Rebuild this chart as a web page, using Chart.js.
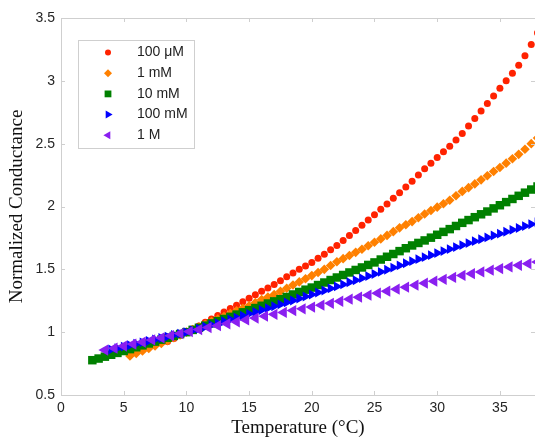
<!DOCTYPE html>
<html>
<head>
<meta charset="utf-8">
<title>Normalized Conductance vs Temperature</title>
<script src="https://cdn.jsdelivr.net/npm/chart.js@4"></script>
<style>
    html, body { margin: 0; padding: 0; background: #fff; }
    #wrap { width: 535px; height: 439px; }
</style>
</head>
<body>
<div id="wrap"><canvas id="chart" width="535" height="439"></canvas></div>
<script>
// values
const seriesLabels = ['100 \u03bcM', '1 mM', '10 mM', '100 mM', '1 M'];

const tempRed = [8.5, 9.0, 9.5, 10.0, 10.5, 11.0, 11.5, 12.0, 12.5, 13.0, 13.5, 14.0, 14.5,
    15.0, 15.5, 16.0, 16.5, 17.0, 17.5, 18.0, 18.5, 19.0, 19.5, 20.0, 20.5, 21.0, 21.5, 22.0, 22.5,
    23.0, 23.5, 24.0, 24.5, 25.0, 25.5, 26.0, 26.5, 27.0, 27.5, 28.0, 28.5, 29.0, 29.5, 30.0, 30.5,
    31.0, 31.5, 32.0, 32.5, 33.0, 33.5, 34.0, 34.5, 35.0, 35.5, 36.0, 36.5, 37.0, 37.5, 38.0];
const condRed = [0.925, 0.950, 0.975, 1.000, 1.025, 1.050, 1.078, 1.105, 1.132, 1.160, 1.188, 1.215, 1.242,
    1.270, 1.297, 1.325, 1.352, 1.380, 1.410, 1.440, 1.470, 1.500, 1.527, 1.555, 1.588, 1.620, 1.655, 1.690, 1.730,
    1.770, 1.810, 1.850, 1.892, 1.935, 1.978, 2.020, 2.065, 2.110, 2.155, 2.200, 2.250, 2.300, 2.345, 2.390, 2.435,
    2.480, 2.530, 2.580, 2.640, 2.700, 2.760, 2.820, 2.880, 2.940, 3.000, 3.060, 3.125, 3.200, 3.290, 3.380];

const tempOrange = [5.5, 6.0, 6.5, 7.0, 7.5, 8.0, 8.5, 9.0, 9.5, 10.0, 10.5, 11.0, 11.5, 12.0, 12.5, 13.0, 13.5,
    14.0, 14.5, 15.0, 15.5, 16.0, 16.5, 17.0, 17.5, 18.0, 18.5, 19.0, 19.5, 20.0, 20.5, 21.0, 21.5,
    22.0, 22.5, 23.0, 23.5, 24.0, 24.5, 25.0, 25.5, 26.0, 26.5, 27.0, 27.5, 28.0, 28.5, 29.0, 29.5,
    30.0, 30.5, 31.0, 31.5, 32.0, 32.5, 33.0, 33.5, 34.0, 34.5, 35.0, 35.5, 36.0, 36.5, 37.0, 37.5, 38.0];
const condOrange = [0.810, 0.830, 0.850, 0.870, 0.890, 0.910, 0.932, 0.955, 0.978, 1.000, 1.020, 1.040, 1.062, 1.085, 1.105, 1.125, 1.148,
    1.170, 1.190, 1.210, 1.235, 1.260, 1.280, 1.300, 1.325, 1.350, 1.375, 1.400, 1.425, 1.450, 1.475, 1.500, 1.530,
    1.560, 1.585, 1.610, 1.635, 1.660, 1.688, 1.715, 1.742, 1.770, 1.800, 1.830, 1.855, 1.880, 1.910, 1.940, 1.968,
    1.995, 2.022, 2.050, 2.085, 2.120, 2.150, 2.180, 2.212, 2.245, 2.278, 2.310, 2.345, 2.380, 2.415, 2.455, 2.500, 2.545];

const tempGreen = [2.5, 3.0, 3.5, 4.0, 4.5, 5.0, 5.5, 6.0, 6.5, 7.0, 7.5, 8.0, 8.5, 9.0, 9.5, 10.0, 10.5, 11.0,
    11.5, 12.0, 12.5, 13.0, 13.5, 14.0, 14.5, 15.0, 15.5, 16.0, 16.5, 17.0, 17.5, 18.0, 18.5, 19.0, 19.5,
    20.0, 20.5, 21.0, 21.5, 22.0, 22.5, 23.0, 23.5, 24.0, 24.5, 25.0, 25.5, 26.0, 26.5, 27.0, 27.5, 28.0,
    28.5, 29.0, 29.5, 30.0, 30.5, 31.0, 31.5, 32.0, 32.5, 33.0, 33.5, 34.0, 34.5, 35.0, 35.5, 36.0, 36.5, 37.0, 37.5, 38.0];
const condGreen = [0.777, 0.790, 0.805, 0.820, 0.835, 0.850, 0.865, 0.880, 0.895, 0.910, 0.925, 0.940, 0.955, 0.970, 0.985, 1.000, 1.018, 1.035,
    1.052, 1.070, 1.088, 1.105, 1.122, 1.140, 1.158, 1.175, 1.192, 1.210, 1.228, 1.245, 1.262, 1.280, 1.300, 1.320, 1.338,
    1.355, 1.375, 1.395, 1.415, 1.435, 1.455, 1.475, 1.495, 1.515, 1.535, 1.555, 1.578, 1.600, 1.622, 1.645, 1.668, 1.690,
    1.710, 1.730, 1.752, 1.775, 1.798, 1.820, 1.845, 1.870, 1.892, 1.915, 1.938, 1.960, 1.985, 2.010, 2.035, 2.060, 2.085, 2.110, 2.135, 2.160];

const tempBlue = [4.0, 4.5, 5.0, 5.5, 6.0, 6.5, 7.0, 7.5, 8.0, 8.5, 9.0, 9.5, 10.0, 10.5, 11.0, 11.5, 12.0,
    12.5, 13.0, 13.5, 14.0, 14.5, 15.0, 15.5, 16.0, 16.5, 17.0, 17.5, 18.0, 18.5, 19.0, 19.5, 20.0, 20.5,
    21.0, 21.5, 22.0, 22.5, 23.0, 23.5, 24.0, 24.5, 25.0, 25.5, 26.0, 26.5, 27.0, 27.5, 28.0, 28.5, 29.0,
    29.5, 30.0, 30.5, 31.0, 31.5, 32.0, 32.5, 33.0, 33.5, 34.0, 34.5, 35.0, 35.5, 36.0, 36.5, 37.0, 37.5, 38.0];
const condBlue = [0.862, 0.873, 0.885, 0.896, 0.908, 0.919, 0.930, 0.942, 0.954, 0.965, 0.977, 0.988, 1.000, 1.014, 1.028, 1.043, 1.058,
    1.072, 1.087, 1.101, 1.116, 1.131, 1.146, 1.161, 1.176, 1.191, 1.206, 1.221, 1.237, 1.252, 1.268, 1.284, 1.300, 1.316,
    1.332, 1.348, 1.364, 1.380, 1.397, 1.413, 1.430, 1.446, 1.463, 1.480, 1.497, 1.514, 1.531, 1.548, 1.565, 1.581, 1.597,
    1.613, 1.629, 1.645, 1.661, 1.677, 1.693, 1.709, 1.724, 1.739, 1.754, 1.769, 1.784, 1.799, 1.814, 1.829, 1.844, 1.859, 1.874];

const tempPurple = [3.50, 4.25, 5.00, 5.75, 6.50, 7.25, 8.00, 8.75, 9.50, 10.25, 11.00, 11.75, 12.50, 13.25, 14.00, 14.75,
    15.50, 16.25, 17.00, 17.75, 18.50, 19.25, 20.00, 20.75, 21.50, 22.25, 23.00, 23.75, 24.50, 25.25, 26.00,
    26.75, 27.50, 28.25, 29.00, 29.75, 30.50, 31.25, 32.00, 32.75, 33.50, 34.25, 35.00, 35.75, 36.50, 37.25, 38.00];
const condPurple = [0.858, 0.873, 0.889, 0.905, 0.921, 0.938, 0.955, 0.972, 0.989, 1.005, 1.021, 1.037, 1.052, 1.067, 1.082, 1.097,
    1.112, 1.127, 1.142, 1.157, 1.172, 1.186, 1.200, 1.215, 1.230, 1.246, 1.262, 1.278, 1.294, 1.310, 1.326,
    1.342, 1.358, 1.374, 1.390, 1.406, 1.421, 1.436, 1.451, 1.465, 1.479, 1.493, 1.506, 1.519, 1.532, 1.545, 1.558];

const xRange = [0, 37.8];
const yRange = [0.5, 3.5];

function zip(xs, ys) {
    return xs.map((x, i) => ({ x: x, y: ys[i] }));
}

const frameColor = '#cfcfcf';

const datasets = [
    { label: seriesLabels[0], data: zip(tempRed, condRed), color: '#ff2200', pointStyle: 'circle', pointRadius: 3.5, rotation: 0, order: 5, legendRadius: 3 },
    { label: seriesLabels[1], data: zip(tempOrange, condOrange), color: '#ff8000', pointStyle: 'rectRot', pointRadius: 4.8, rotation: 0, order: 4, legendRadius: 4 },
    { label: seriesLabels[2], data: zip(tempGreen, condGreen), color: '#008000', pointStyle: 'rect', pointRadius: 6, rotation: 0, order: 3, legendRadius: 4.8 },
    { label: seriesLabels[3], data: zip(tempBlue, condBlue), color: '#0000ff', pointStyle: 'triangle', pointRadius: 5.7, rotation: 90, order: 2, legendRadius: 4.6 },
    { label: seriesLabels[4], data: zip(tempPurple, condPurple), color: '#8a1ff0', pointStyle: 'triangle', pointRadius: 6.5, rotation: -90, order: 1, legendRadius: 4.6 }
];

// box with the legend entries, top-left inside the plot
const boxLegend = {
    id: 'boxLegend',
    afterDraw(chart) {
        const ctx = chart.ctx;
        const left = 78.5, top = 40.5, width = 116, height = 108;
        ctx.save();
        ctx.fillStyle = '#ffffff';
        ctx.fillRect(left, top, width, height);
        ctx.strokeStyle = frameColor;
        ctx.lineWidth = 1;
        ctx.strokeRect(left, top, width, height);
        ctx.font = '14px "Liberation Sans", Arial, sans-serif';
        ctx.textBaseline = 'middle';
        datasets.forEach((ds, i) => {
            const y = 52.5 + i * 20.7;
            ctx.fillStyle = ds.color;
            Chart.helpers.drawPoint(ctx, {
                pointStyle: ds.pointStyle,
                rotation: ds.rotation,
                radius: ds.legendRadius,
                borderWidth: 0
            }, 108, y);
            ctx.fillStyle = '#222222';
            ctx.fillText(ds.label, 137, y);
        });
        ctx.restore();
    }
};

// top border and the small inward tick marks on all four sides
const frame = {
    id: 'frame',
    afterDraw(chart) {
        const { ctx, chartArea: area, scales } = chart;
        const len = 4;
        ctx.save();
        ctx.strokeStyle = frameColor;
        ctx.lineWidth = 1;
        ctx.beginPath();
        ctx.moveTo(area.left, area.top + 0.5);
        ctx.lineTo(area.right, area.top + 0.5);
        scales.x.ticks.forEach(t => {
            const px = Math.round(scales.x.getPixelForValue(t.value)) + 0.5;
            ctx.moveTo(px, area.bottom);
            ctx.lineTo(px, area.bottom - len);
            ctx.moveTo(px, area.top);
            ctx.lineTo(px, area.top + len);
        });
        scales.y.ticks.forEach(t => {
            const py = Math.round(scales.y.getPixelForValue(t.value)) + 0.5;
            ctx.moveTo(area.left, py);
            ctx.lineTo(area.left + len, py);
            ctx.moveTo(area.right, py);
            ctx.lineTo(area.right - len, py);
        });
        ctx.stroke();
        ctx.restore();
    }
};

const tickFont = { family: '"Liberation Sans", Arial, sans-serif', size: 14 };
const titleFont = { family: '"Liberation Serif", "Times New Roman", serif', size: 19 };

new Chart(document.getElementById('chart'), {
    type: 'scatter',
    data: {
        datasets: datasets.map(ds => ({
            label: ds.label,
            data: ds.data,
            showLine: false,
            order: ds.order,
            pointStyle: ds.pointStyle,
            pointRotation: ds.rotation,
            pointRadius: ds.pointRadius,
            pointHoverRadius: ds.pointRadius,
            pointBorderWidth: 0,
            pointBackgroundColor: ds.color,
            pointBorderColor: ds.color,
            backgroundColor: ds.color,
            borderColor: ds.color
        }))
    },
    options: {
        responsive: false,
        animation: false,
        devicePixelRatio: 1,
        layout: { autoPadding: false, padding: { top: 18, right: 0, bottom: 0, left: 0 } },
        plugins: {
            legend: { display: false },
            tooltip: { enabled: false }
        },
        scales: {
            x: {
                type: 'linear',
                min: xRange[0],
                max: xRange[1],
                afterFit: scale => {
                    scale.height = 44;
                    scale.paddingLeft = 0;
                    scale.paddingRight = 0;
                },
                grid: { display: false, drawTicks: false },
                border: { display: true, color: frameColor },
                ticks: { stepSize: 5, includeBounds: false, padding: 5, color: '#262626', font: tickFont },
                title: { display: true, text: 'Temperature (\u00b0C)', color: '#111111', font: titleFont, padding: { top: 0, bottom: 0 } }
            },
            y: {
                type: 'linear',
                min: yRange[0],
                max: yRange[1],
                afterFit: scale => {
                    scale.width = 61;
                    scale.paddingTop = 0;
                    scale.paddingBottom = 0;
                },
                grid: { display: false, drawTicks: false },
                border: { display: true, color: frameColor },
                ticks: { stepSize: 0.5, padding: 6, color: '#262626', font: tickFont, callback: v => String(v) },
                title: { display: true, text: 'Normalized Conductance', color: '#111111', font: titleFont, padding: { top: 6, bottom: 0 } }
            }
        }
    },
    plugins: [frame, boxLegend]
});
</script>
</body>
</html>
